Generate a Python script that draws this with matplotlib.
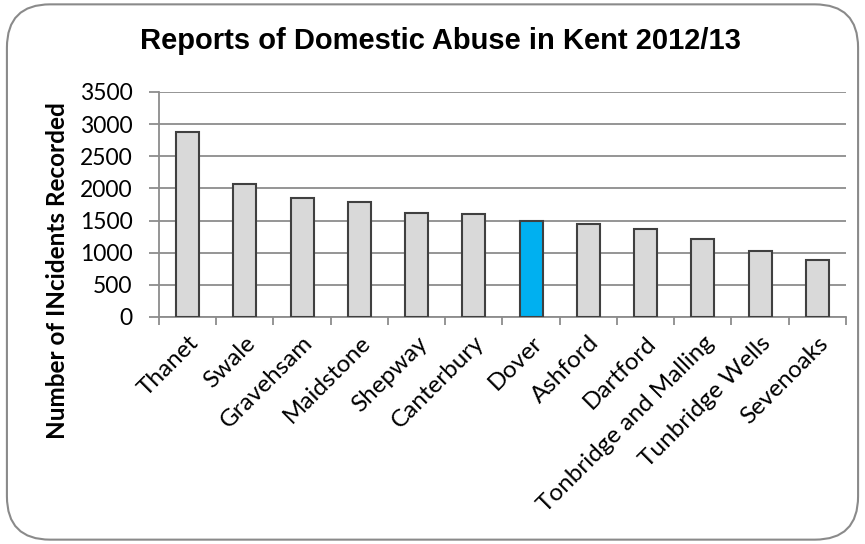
import matplotlib.pyplot as plt
from matplotlib.patches import FancyBboxPatch

districts = ['Thanet', 'Swale', 'Gravehsam', 'Maidstone', 'Shepway', 'Canterbury',
             'Dover', 'Ashford', 'Dartford', 'Tonbridge and Malling',
             'Tunbridge Wells', 'Sevenoaks']
incidents = [2873, 2064, 1856, 1784, 1618, 1597, 1493, 1452, 1374, 1218, 1031, 887]
highlight = 'Dover'
yticks = [0, 500, 1000, 1500, 2000, 2500, 3000, 3500]

fig = plt.figure(figsize=(8.65, 5.44), dpi=100)
ax = fig.add_axes([0.1838, 0.4173, 0.7942, 0.4136])

# rounded border round the whole chart
border = FancyBboxPatch((0.008, 0.008), 0.984, 0.984,
                        boxstyle='round,pad=0,rounding_size=0.05',
                        transform=fig.transFigure, fill=False,
                        edgecolor='#8a8a8a', linewidth=1.5, mutation_aspect=865/544)
fig.patches.append(border)

colors = ['#00b0f0' if d == highlight else '#d9d9d9' for d in districts]
x = list(range(len(districts)))
ax.bar(x, incidents, width=0.4, color=colors, edgecolor='#404040', linewidth=1.5, zorder=3)

ax.set_xlim(-0.5, len(districts) - 0.5)
ax.set_ylim(0, 3500)
ax.set_yticks(yticks)
ax.set_yticklabels([str(t) for t in yticks], fontname='Lato', fontsize=16.5)
ax.yaxis.grid(True, color='#8c8c8c', linewidth=1.3, zorder=0)

ax.set_xticks(x)
ax.set_xticklabels(districts, rotation=45, ha='right', rotation_mode='anchor',
                   fontname='Lato', fontsize=17.5)
ax.set_xticks([i - 0.5 for i in range(len(districts) + 1)], minor=True)
ax.tick_params(axis='x', which='major', length=0, pad=11)
ax.tick_params(axis='x', which='minor', length=6, color='#8c8c8c', width=1.3)
ax.tick_params(axis='y', length=7, color='#8c8c8c', width=1.3, pad=12)

for s in ['top', 'right']:
    ax.spines[s].set_visible(False)
ax.spines['left'].set_color('#8c8c8c')
ax.spines['left'].set_linewidth(1.3)
ax.spines['bottom'].set_color('#8c8c8c')
ax.spines['bottom'].set_linewidth(1.3)

fig.text(58 / 865, 1 - 271 / 544, 'Number of INcidents Recorded', rotation=90,
         ha='center', va='center', fontname='Lato', fontweight='bold', fontsize=17.5)
fig.text(0.509, 0.925, 'Reports of Domestic Abuse in Kent 2012/13', ha='center', va='center',
         fontname='Liberation Sans', fontweight='bold', fontsize=21)

fig.savefig('out.png', dpi=100)
